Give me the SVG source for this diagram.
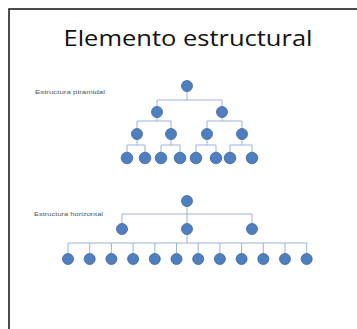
<svg xmlns="http://www.w3.org/2000/svg" width="357" height="329" viewBox="0 0 357 329">
<style>
.n{fill:#4f7fbf;stroke:#3f679c;stroke-width:0.8}
.c{fill:none;stroke:#9cb3d6;stroke-width:1}
.lbl{font-family:"Liberation Sans",Arial,sans-serif;font-size:5px;fill:#555}
.title{font-family:"Open Sans","Liberation Sans",sans-serif;font-size:21px;fill:#111}
</style>
<rect x="0" y="0" width="357" height="329" fill="#fff"/>
<rect x="9" y="9" width="360" height="330" fill="none" stroke="#111" stroke-width="1.5"/>
<text class="title" x="188" y="46" text-anchor="middle" textLength="249" lengthAdjust="spacingAndGlyphs">Elemento estructural</text>
<text class="lbl" x="35" y="94" textLength="70" lengthAdjust="spacingAndGlyphs">Estructura piramidal</text>
<text class="lbl" x="34" y="216" textLength="69" lengthAdjust="spacingAndGlyphs">Estructura horizontal</text>
<g id="connectors">
<path class="c" d="M187 86V100M157 100H222M157 100V112M222 100V112"/>
<path class="c" d="M157 112V121M137 121H171M137 121V134M171 121V134"/>
<path class="c" d="M222 112V121M207 121H242M207 121V134M242 121V134"/>
<path class="c" d="M137 134V145M127 145H145M127 145V158M145 145V158"/>
<path class="c" d="M171 134V145M161 145H180M161 145V158M180 145V158"/>
<path class="c" d="M207 134V145M196 145H216M196 145V158M216 145V158"/>
<path class="c" d="M242 134V145M230 145H252M230 145V158M252 145V158"/>
<path class="c" d="M187 201V214M122 214H252M122 214V229M187 214V229M252 214V229"/>
<path class="c" d="M187 229V243M68 243H307M68 243V259M89.7 243V259M111.4 243V259M133.1 243V259M154.8 243V259M176.5 243V259M198.2 243V259M219.9 243V259M241.6 243V259M263.3 243V259M285 243V259M306.7 243V259"/>
</g>
<g id="p0"><circle class="n" cx="187" cy="86" r="5.5"/></g>
<g id="p1"><circle class="n" cx="157" cy="112" r="5.5"/></g>
<g id="p2"><circle class="n" cx="222" cy="112" r="5.5"/></g>
<g id="p3"><circle class="n" cx="137" cy="134" r="5.5"/></g>
<g id="p4"><circle class="n" cx="171" cy="134" r="5.5"/></g>
<g id="p5"><circle class="n" cx="207" cy="134" r="5.5"/></g>
<g id="p6"><circle class="n" cx="242" cy="134" r="5.5"/></g>
<g id="p7"><circle class="n" cx="127" cy="158" r="5.8"/></g>
<g id="p8"><circle class="n" cx="145" cy="158" r="5.8"/></g>
<g id="p9"><circle class="n" cx="161" cy="158" r="5.8"/></g>
<g id="p10"><circle class="n" cx="180" cy="158" r="5.8"/></g>
<g id="p11"><circle class="n" cx="196" cy="158" r="5.8"/></g>
<g id="p12"><circle class="n" cx="216" cy="158" r="5.8"/></g>
<g id="p13"><circle class="n" cx="230" cy="158" r="5.8"/></g>
<g id="p14"><circle class="n" cx="252" cy="158" r="5.8"/></g>
<g id="h0"><circle class="n" cx="187" cy="201" r="5.5"/></g>
<g id="h1"><circle class="n" cx="122" cy="229" r="5.5"/></g>
<g id="h2"><circle class="n" cx="187" cy="229" r="5.5"/></g>
<g id="h3"><circle class="n" cx="252" cy="229" r="5.5"/></g>
<g id="h4"><circle class="n" cx="68" cy="259" r="5.5"/></g>
<g id="h5"><circle class="n" cx="89.7" cy="259" r="5.5"/></g>
<g id="h6"><circle class="n" cx="111.4" cy="259" r="5.5"/></g>
<g id="h7"><circle class="n" cx="133.1" cy="259" r="5.5"/></g>
<g id="h8"><circle class="n" cx="154.8" cy="259" r="5.5"/></g>
<g id="h9"><circle class="n" cx="176.5" cy="259" r="5.5"/></g>
<g id="h10"><circle class="n" cx="198.2" cy="259" r="5.5"/></g>
<g id="h11"><circle class="n" cx="219.9" cy="259" r="5.5"/></g>
<g id="h12"><circle class="n" cx="241.6" cy="259" r="5.5"/></g>
<g id="h13"><circle class="n" cx="263.3" cy="259" r="5.5"/></g>
<g id="h14"><circle class="n" cx="285" cy="259" r="5.5"/></g>
<g id="h15"><circle class="n" cx="306.7" cy="259" r="5.5"/></g>
</svg>
